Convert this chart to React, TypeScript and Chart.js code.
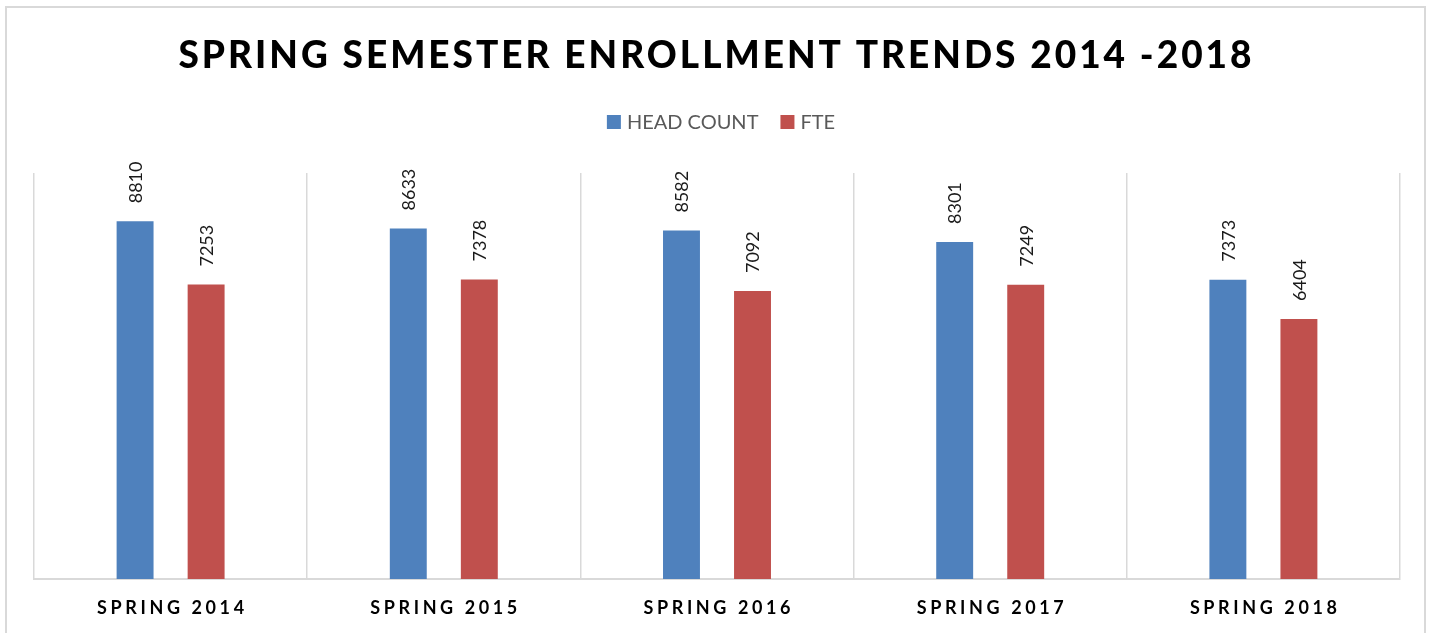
import React, { useEffect, useRef } from "react";
import { Chart, registerables } from "chart.js";

Chart.register(...registerables);

const chartTitle = "SPRING SEMESTER ENROLLMENT TRENDS 2014 -2018";
const categories = ["SPRING 2014", "SPRING 2015", "SPRING 2016", "SPRING 2017", "SPRING 2018"];
const seriesNames = ["HEAD COUNT", "FTE"];
const headCount = [8810, 8633, 8582, 8301, 7373];
const fte = [7253, 7378, 7092, 7249, 6404];
const seriesColors = ["#4F81BD", "#C0504D"];
const yMin = 0;
const yMax = 10000;

const FONT = "Lato, 'Open Sans', sans-serif";

function drawSpaced(ctx: CanvasRenderingContext2D, text: string, cx: number, y: number, spacing: number) {
  (ctx as any).letterSpacing = spacing + "px";
  ctx.textAlign = "left";
  const w = ctx.measureText(text).width - spacing;
  ctx.fillText(text, cx - w / 2, y);
  (ctx as any).letterSpacing = "0px";
}

const decorPlugin = {
  id: "decor",
  afterDraw(chart: any) {
    const ctx: CanvasRenderingContext2D = chart.ctx;
    ctx.save();

    // Title
    ctx.fillStyle = "#000000";
    ctx.textBaseline = "alphabetic";
    ctx.font = `900 37px ${FONT}`;
    drawSpaced(ctx, chartTitle, 715, 68, 3);

    // Legend
    ctx.font = `20px ${FONT}`;
    const box = 14;
    const gapBoxText = 6;
    const itemGap = 22;
    const items = chart.data.datasets.map((d: any) => ({
      label: d.label,
      color: d.backgroundColor,
      w: box + gapBoxText + ctx.measureText(d.label).width,
    }));
    const total = items.reduce((s: number, it: any) => s + it.w, 0) + itemGap * (items.length - 1);
    let x = 721 - total / 2;
    const ly = 122;
    items.forEach((it: any) => {
      ctx.fillStyle = it.color;
      ctx.fillRect(x, ly - box / 2, box, box);
      ctx.fillStyle = "#595959";
      ctx.textAlign = "left";
      ctx.textBaseline = "middle";
      ctx.fillText(it.label, x + box + gapBoxText, ly + 1);
      x += it.w + itemGap;
    });

    // Category labels
    const xScale = chart.scales.x;
    ctx.fillStyle = "#000000";
    ctx.textBaseline = "alphabetic";
    ctx.font = `bold 18px ${FONT}`;
    chart.data.labels.forEach((lab: string, i: number) => {
      const px = xScale.getPixelForValue(i);
      drawSpaced(ctx, lab, px, 614, 3.6);
    });

    // Data labels
    ctx.font = `18px ${FONT}`;
    ctx.fillStyle = "#1a1a1a";
    chart.data.datasets.forEach((ds: any, di: number) => {
      const meta = chart.getDatasetMeta(di);
      meta.data.forEach((bar: any, i: number) => {
        ctx.save();
        ctx.translate(bar.x, bar.y - 18);
        ctx.rotate(-Math.PI / 2);
        ctx.textAlign = "left";
        ctx.textBaseline = "middle";
        ctx.fillText(String(ds.data[i]), 0, 1);
        ctx.restore();
      });
    });

    ctx.restore();
  },
};

export default function App() {
  const canvasRef = useRef<HTMLCanvasElement | null>(null);

  useEffect(() => {
    document.body.style.margin = "0";
    const canvas = canvasRef.current;
    if (!canvas) return;
    const chart = new Chart(canvas, {
      type: "bar",
      data: {
        labels: categories,
        datasets: [
          {
            label: seriesNames[0],
            data: headCount,
            backgroundColor: seriesColors[0],
            categoryPercentage: 0.52,
            barPercentage: 0.52,
          },
          {
            label: seriesNames[1],
            data: fte,
            backgroundColor: seriesColors[1],
            categoryPercentage: 0.52,
            barPercentage: 0.52,
          },
        ],
      },
      options: {
        responsive: false,
        maintainAspectRatio: false,
        animation: false,
        devicePixelRatio: 1,
        layout: { padding: { top: 173, left: 34, right: 34, bottom: 54 } },
        plugins: {
          legend: { display: false },
          title: { display: false },
          tooltip: { enabled: false },
        },
        scales: {
          x: {
            display: true,
            grid: { display: true, color: "#D9D9D9", lineWidth: 1.5, drawTicks: false, offset: true },
            border: { display: true, color: "#D9D9D9", width: 2 },
            ticks: { display: false },
          },
          y: {
            display: false,
            min: yMin,
            max: yMax,
          },
        },
      },
      plugins: [decorPlugin],
    });
    return () => chart.destroy();
  }, []);

  return (
    <div style={{ position: "fixed", left: 0, top: 0, width: 1434, height: 633, background: "#fff", overflow: "hidden" }}>
      <div
        style={{
          position: "absolute",
          left: 5,
          top: 6,
          width: 1421,
          height: 660,
          border: "2px solid #D9D9D9",
          boxSizing: "border-box",
        }}
      />
      <canvas ref={canvasRef} width={1434} height={633} style={{ position: "absolute", left: 0, top: 0 }} />
    </div>
  );
}
